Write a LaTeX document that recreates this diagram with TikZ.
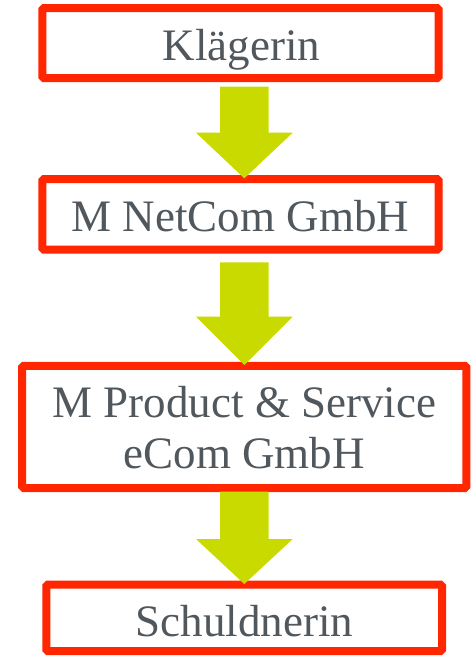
\documentclass[tikz,border=0pt]{standalone}
\usepackage{fontspec}
\setmainfont{Liberation Serif}
\usetikzlibrary{calc}
\definecolor{boxred}{RGB}{255,38,0}
\definecolor{arrgreen}{RGB}{201,218,0}
\definecolor{txtgray}{RGB}{80,87,93}
\begin{document}
\begin{tikzpicture}[x=1pt,y=-1pt,
  box/.style={draw=boxred,line width=8pt,rounded corners=1.5pt,fill=white,
    inner sep=0pt,rectangle},
  lbl/.style={anchor=base,inner sep=0pt,text=txtgray,font=\fontsize{45}{51}\selectfont},
  arr/.style={fill=arrgreen}]
\useasboundingbox (0,0) rectangle (473,656);
% boxes
\node[box,minimum width=396.4pt,minimum height=69.8pt] (b1) at (240.5,43.1) {};
\node[box,minimum width=396.4pt,minimum height=70.3pt] (b2) at (240.5,214.35) {};
\node[box,minimum width=444.1pt,minimum height=122.2pt] (b3) at (244.25,426.9) {};
\node[box,minimum width=395.7pt,minimum height=66.3pt] (b4) at (244.15,617.85) {};
% labels
\node[lbl] (t1) at (241.5,60.7) {Klägerin};
\node[lbl] (t2) at (240.3,231.7) {M NetCom GmbH};
\node[lbl] (t3a) at (244.5,417.3) {M Product \& Service};
\node[lbl] (t3b) at (244.3,468.3) {eCom GmbH};
\node[lbl] (t4) at (244.5,636) {Schuldnerin};
% block arrows: from top coordinate to tip coordinate, neck given as offset above tip
\newcommand{\blockarr}[3]{%
  \fill[arr] ($(#1)+(-24.3,0)$) -- ($(#1)+(24.4,0)$) -- ($(#2)+(24.4,-#3)$)
    -- ($(#2)+(48.4,-#3)$) -- (#2) -- ($(#2)+(-48.3,-#3)$)
    -- ($(#2)+(-24.3,-#3)$) -- cycle;}
\coordinate (a1s) at (244.3,86.7);  \coordinate (a1e) at (244.3,178.3);
\coordinate (a2s) at (244.3,262.3); \coordinate (a2e) at (244.3,365);
\coordinate (a3s) at (244.3,491.7); \coordinate (a3e) at (244.3,584);
\blockarr{a1s}{a1e}{45.6}
\blockarr{a2s}{a2e}{48.3}
\blockarr{a3s}{a3e}{45}
\end{tikzpicture}
\end{document}
